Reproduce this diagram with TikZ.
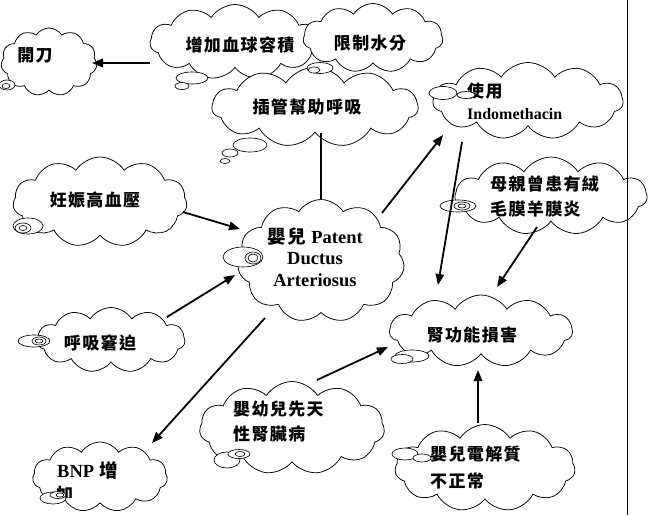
\documentclass[tikz,border=0pt]{standalone}
\usepackage{fontspec}
\setmainfont{Liberation Serif}
\newfontfamily\cjk[LetterSpace=8]{Noto Sans CJK TC}
\newcommand\enword[1]{{\rmfamily\bfseries #1}}
\usetikzlibrary{shapes.symbols,arrows.meta}

\tikzset{
  bubble/.style={cloud, cloud puffs=11, cloud puff arc=115, cloud ignores aspect,
    draw, fill=white, line width=0.75pt, inner sep=0pt},
  puff/.style={draw, fill=white, line width=0.65pt},
  words/.style={inner sep=0pt, align=left, font=\cjk\bfseries\fontsize{17}{25}\selectfont},
  link/.style={line width=1.8pt, -{Triangle[length=11pt,width=8.5pt]}},
}

\begin{document}
\begin{tikzpicture}[x=1pt,y=-1pt]
\useasboundingbox (0,0) rectangle (649,515);

% clouds
\node[bubble, minimum width=96pt, minimum height=68pt] (kaidao) at (49,62) {};
\node[bubble, minimum width=170pt, minimum height=75pt] (zengjia) at (235,42) {};
\node[bubble, minimum width=140pt, minimum height=69pt] (xianzhi) at (373,38) {};
\node[bubble, minimum width=206pt, minimum height=80pt] (chaguan) at (315,107) {};
\node[bubble, minimum width=190pt, minimum height=77pt] (indo) at (528,101) {};
\node[bubble, minimum width=192pt, minimum height=78pt] (muqin) at (551,196) {};
\node[bubble, minimum width=174pt, minimum height=90pt] (renshen) at (100,202) {};
\node[bubble, minimum width=167pt, minimum height=123pt] (pda) at (321,261) {};
\node[bubble, minimum width=148pt, minimum height=65pt] (huxi) at (111,340) {};
\node[bubble, minimum width=183pt, minimum height=72pt] (shen) at (481,331) {};
\node[bubble, minimum width=185pt, minimum height=93pt] (xiantian) at (292,428) {};
\node[bubble, minimum width=135pt, minimum height=70pt] (bnp) at (100,477) {};
\node[bubble, minimum width=180pt, minimum height=87pt] (dianjie) at (485,468) {};

% page edge
\coordinate (edge-top) at (627,0);
\coordinate (edge-bot) at (627,515);
\draw[line width=0.9pt] (edge-top) -- (edge-bot);

% texts
\node[words] (kaidao-t) at (35,55) {開刀};
\node[words] (zengjia-t) at (240,45) {增加血球容積};
\node[words] (xianzhi-t) at (370,43) {限制水分};
\node[words] (chaguan-t) at (307,107) {插管幫助呼吸};
\node[words, anchor=west, font=\cjk\bfseries\fontsize{17}{22}\selectfont] (indo-t) at (467,101)
  {使用\\{\fontsize{16}{22}\selectfont\enword{Indomethacin}}};
\node[words, anchor=west] (muqin-t) at (490,197) {母親曾患有絨\\毛膜羊膜炎};
\node[words] (renshen-t) at (95,200) {妊娠高血壓};
\node[words, align=center, font=\cjk\bfseries\fontsize{18.5}{21.5}\selectfont] (pda-t) at (315,257)
  {嬰兒 \enword{Patent}\\\enword{Ductus}\\\enword{Arteriosus}};
\node[words] (huxi-t) at (100,343) {呼吸窘迫};
\node[words] (shen-t) at (472,335) {腎功能損害};
\node[words, anchor=west] (xiantian-t) at (233,422) {嬰幼兒先天\\性腎臟病};
\node[words, anchor=west] (bnp-t) at (57,470) {\fontsize{18.5}{22}\selectfont\enword{BNP} 增};
\begin{scope}
  \clip (40,483) rectangle (100,497);
  \node[words, anchor=west] (bnp-t2) at (56,494) {加};
\end{scope}
\node[words, anchor=west, font=\cjk\bfseries\fontsize{17}{27}\selectfont] (dianjie-t) at (430,468)
  {嬰兒電解質\\不正常};

% thought puffs
\draw[puff] (7,85) ellipse (8 and 5);
\draw[puff] (6,86) ellipse (4 and 2.5);
\draw[puff] (192,78) ellipse (16 and 6);
\draw[puff] (182,86) ellipse (7 and 3.5);
\draw[puff] (320,68) ellipse (13 and 5.5);
\draw[puff] (314,70) ellipse (6 and 3);
\draw[puff] (250,145) ellipse (17 and 7);
\draw[puff] (230,153) ellipse (8 and 4);
\draw[puff] (225,161) ellipse (5 and 2.5);
\draw[puff] (443,93) ellipse (14 and 6.5);
\draw[puff] (466,95) ellipse (9 and 3.5);
\draw[puff] (458,206) ellipse (18 and 6);
\draw[puff] (462,206) ellipse (8 and 4);
\draw[puff] (462,206) ellipse (4 and 2);
\draw[puff] (28,226) ellipse (15 and 8);
\draw[puff] (23,228) ellipse (8 and 5);
\draw[puff] (23,228) ellipse (4 and 2.5);
\draw[puff] (243,257) ellipse (20 and 10);
\draw[puff] (253,258) ellipse (8 and 6);
\draw[puff] (253,258) ellipse (5 and 4);
\draw[puff] (34,341) ellipse (16 and 6);
\draw[puff] (39,341) ellipse (7 and 4);
\draw[puff] (39,341) ellipse (4 and 2);
\draw[puff] (412,356) ellipse (17 and 6);
\draw[puff] (402,359) ellipse (11 and 4.5);
\draw[puff] (227,460) ellipse (13 and 8);
\draw[puff] (239,454) ellipse (11 and 4.5);
\draw[puff] (240,454) ellipse (5 and 2.5);
\draw[puff] (53,498) ellipse (13 and 6);
\draw[puff] (58,495) ellipse (8 and 3.5);
\draw[puff] (60,495) ellipse (4 and 2);
\draw[puff] (405,454) ellipse (13 and 6);
\draw[puff] (422,458) ellipse (9 and 4);

% connectors
\draw[link] ([shift={(-85,21)}]zengjia.center) -- ([shift={(43,1)}]kaidao.center);
\draw[line width=1.8pt] (pda.north) -- (pda.north |- chaguan.south);
\draw[link] ([shift={(61,-48)}]pda.center) -- ([shift={(-85,34)}]indo.center);
\draw[link] ([shift={(-66,41)}]indo.center) -- ([shift={(-43,-46)}]shen.center);
\draw[link] ([shift={(-14,31)}]muqin.center) -- ([shift={(16,-44)}]shen.center);
\draw[link] ([shift={(83,10)}]renshen.center) -- ([shift={(-81,-32)}]pda.center);
\draw[link] ([shift={(56,-23)}]huxi.center) -- ([shift={(-86,14)}]pda.center);
\draw[link] ([shift={(-56,57)}]pda.center) -- ([shift={(52,-34)}]bnp.center);
\draw[link] ([shift={(25,-48)}]xiantian.center) -- ([shift={(-93,16)}]shen.center);
\draw[link] ([shift={(-7,-45)}]dianjie.center) -- ([shift={(-3,39)}]shen.center);
\end{tikzpicture}
\end{document}
